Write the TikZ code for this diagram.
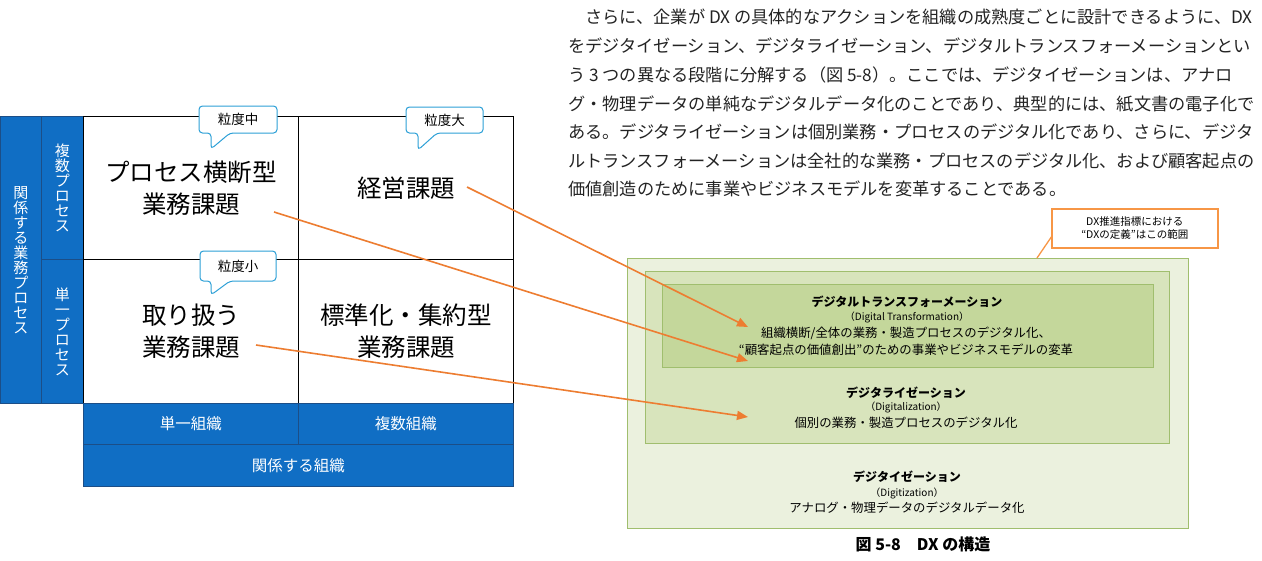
\documentclass[tikz,border=0pt]{standalone}
\usepackage{fontspec}
\setmainfont{Noto Sans CJK JP}
\usetikzlibrary{arrows.meta}
\definecolor{mblue}{RGB}{16,110,196}
\definecolor{mbluedk}{RGB}{28,78,135}
\definecolor{callb}{RGB}{45,160,215}
\definecolor{orng}{RGB}{237,125,49}
\definecolor{orng2}{RGB}{247,150,70}
\definecolor{gA}{RGB}{235,241,222}
\definecolor{gB}{RGB}{216,228,188}
\definecolor{gC}{RGB}{196,215,155}
\definecolor{gline}{RGB}{160,190,110}
\definecolor{ptext}{RGB}{35,35,35}
\newcommand{\myfs}[2]{\fontsize{#1}{#2}\selectfont}
\begin{document}
\begin{tikzpicture}[x=1pt,y=-1pt,
  bluebox/.style={draw=mbluedk, fill=mblue, line width=0.8pt, inner sep=0pt, anchor=north west, text=white, align=center},
  cell/.style={draw=black, fill=white, line width=1pt, anchor=north west, inner sep=0pt, align=center, font=\myfs{24.5}{32}},
  vlab/.style={font=\myfs{15}{15}},
  blab/.style={font=\myfs{15.5}{18}},
  callout/.style={draw=callb, fill=white, line width=1pt, rounded corners=3.5pt},
  calltext/.style={font=\myfs{13.5}{15}, inner sep=0pt},
  link/.style={draw=orng, line width=1.6pt, -{Triangle[length=11pt,width=9pt]}},
  ptx/.style={anchor=west, inner sep=0pt, text=ptext, font=\myfs{17.2}{20}},
  gbox/.style={draw=gline, line width=1pt, anchor=north west, inner sep=0pt},
  gtitle/.style={inner sep=0pt, font=\bfseries\myfs{12}{14}},
  gsub/.style={inner sep=0pt, font=\myfs{10}{12}},
  gbody/.style={inner sep=0pt, font=\myfs{12.4}{14}}
]
\useasboundingbox (0,0) rectangle (1262,560);

% ---------- left matrix ----------
\node[bluebox, vlab, minimum width=41pt, minimum height=287pt] (rel) at (0,116)
  {関\\係\\す\\る\\業\\務\\プ\\ロ\\セ\\ス};
\node[bluebox, vlab, minimum width=42pt, minimum height=143pt] (multi) at (41,116)
  {複\\数\\プ\\ロ\\セ\\ス};
\node[bluebox, vlab, minimum width=42pt, minimum height=144pt] (single) at (41,259)
  {単\\一\\プ\\ロ\\セ\\ス};

\node[cell, minimum width=215pt, minimum height=143pt] (c11) at (83,116) {プロセス横断型\\業務課題};
\node[cell, minimum width=215pt, minimum height=143pt] (c12) at (298,116) {経営課題};
\node[cell, minimum width=215pt, minimum height=144pt] (c21) at (83,259) {取り扱う\\業務課題};
\node[cell, minimum width=215pt, minimum height=144pt] (c22) at (298,259) {標準化・集約型\\業務課題};

\node[bluebox, blab, minimum width=215pt, minimum height=41pt] (org1) at (83,403) {単一組織};
\node[bluebox, blab, minimum width=215pt, minimum height=41pt] (org2) at (298,403) {複数組織};
\node[bluebox, blab, minimum width=430pt, minimum height=42pt] (orgall) at (83,444) {関係する組織};

% callouts
\draw[callout] (199,106) -- (277,106) -- (277,133) -- (230,133) -- (211,149) -- (211,133) -- (199,133) -- cycle;
\node[calltext] (k1) at (238,119.5) {粒度中};
\draw[callout] (406,107) -- (483,107) -- (483,133) -- (437,133) -- (418,150) -- (418,133) -- (406,133) -- cycle;
\node[calltext] (k2) at (444.5,120) {粒度大};
\draw[callout] (200,251) -- (276,251) -- (276,281) -- (230,281) -- (211,295) -- (211,281) -- (200,281) -- cycle;
\node[calltext] (k3) at (238,266) {粒度小};

% ---------- paragraph ----------
\node[ptx] (p1) at (568,17) {　さらに、企業が DX の具体的なアクションを組織の成熟度ごとに設計できるように、DX};
\node[ptx] (p2) at (568,46) {をデジタイゼーション、デジタライゼーション、デジタルトランスフォーメーションとい};
\node[ptx] (p3) at (568,75) {う 3 つの異なる段階に分解する（図 5-8）。ここでは、デジタイゼーションは、アナロ};
\node[ptx] (p4) at (568,104) {グ・物理データの単純なデジタルデータ化のことであり、典型的には、紙文書の電子化で};
\node[ptx] (p5) at (568,132) {ある。デジタライゼーションは個別業務・プロセスのデジタル化であり、さらに、デジタ};
\node[ptx] (p6) at (568,161) {ルトランスフォーメーションは全社的な業務・プロセスのデジタル化、および顧客起点の};
\node[ptx] (p7) at (568,189) {価値創造のために事業やビジネスモデルを変革することである。};

% ---------- right diagram ----------
\node[gbox, fill=gA, minimum width=561pt, minimum height=270pt] (outer) at (627,258) {};
\node[gbox, fill=gB, minimum width=524pt, minimum height=172pt] (middle) at (645,271) {};
\node[gbox, fill=gC, minimum width=491pt, minimum height=83pt] (inner) at (662,284) {};

\node[gtitle] (t1) at (907,302) {デジタルトランスフォーメーション};
\node[gsub] (s1) at (907,317) {（Digital Transformation）};
\node[gbody] (b1a) at (906,333) {組織横断/全体の業務・製造プロセスのデジタル化、};
\node[gbody] (b1b) at (906,350) {“顧客起点の価値創出”のための事業やビジネスモデルの変革};

\node[gtitle] (t2) at (906,393) {デジタライゼーション};
\node[gsub] (s2) at (906,407) {（Digitalization）};
\node[gbody] (b2) at (906,423) {個別の業務・製造プロセスのデジタル化};

\node[gtitle] (t3) at (907,477) {デジタイゼーション};
\node[gsub] (s3) at (907,493) {（Digitization）};
\node[gbody] (b3) at (907,508) {アナログ・物理データのデジタルデータ化};

\node[draw=orng2, line width=1.5pt, fill=white, minimum width=166pt, minimum height=39pt,
      anchor=north west, inner sep=0pt, align=center, font=\myfs{10.5}{13}] (dxb) at (1051,208)
  {DX推進指標における\\“DXの定義”はこの範囲};
\coordinate (dxp) at (1052,236);
\coordinate (dxq) at (1037,258);
\draw[orng2, line width=1.3pt] (dxp) -- (dxq);

\node[inner sep=0pt, font=\bfseries\myfs{16}{18}] (cap) at (923,544) {図 5-8　DX の構造};

% ---------- arrows ----------
\coordinate (a1s) at (467,187);
\coordinate (a1e) at (748,327);
\coordinate (a2s) at (274,212);
\coordinate (a2e) at (748,361);
\coordinate (a3s) at (256,345);
\coordinate (a3e) at (748,417);
\draw[link] (a1s) -- (a1e);
\draw[link] (a2s) -- (a2e);
\draw[link] (a3s) -- (a3e);
\end{tikzpicture}
\end{document}
